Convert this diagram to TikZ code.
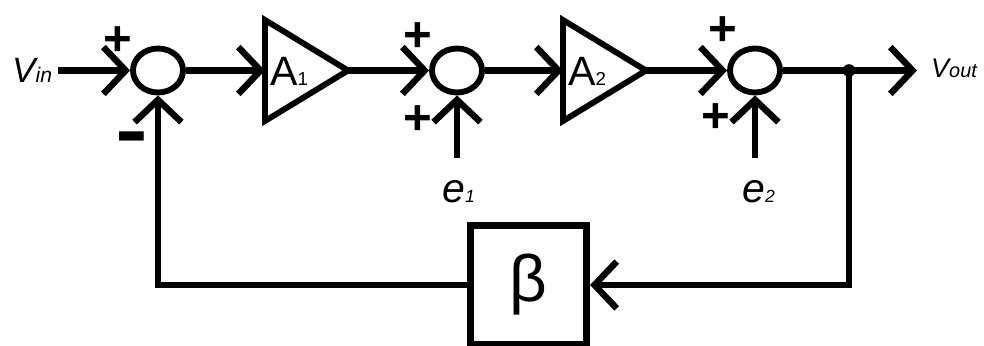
\documentclass[tikz,border=0pt]{standalone}
\usepackage{fontspec}
\setmainfont{Liberation Sans}
\usepackage{graphicx}
\usetikzlibrary{arrows.meta,shapes.geometric}
\begin{document}
\begin{tikzpicture}[x=0.03cm,y=-0.03cm,
  wire/.style={line width=5.5pt},
  arr/.style={wire,-{Straight Barb[length=19pt,width=40pt]}},
  sumj/.style={ellipse,draw,line width=5pt,minimum width=1.5cm,minimum height=1.32cm,inner sep=0pt},
  amp/.style={line width=5pt,line join=miter},
  sgn/.style={font=\fontsize{42}{42}\bfseries\selectfont,inner sep=0pt},
  lbl/.style={inner sep=0pt,anchor=base west},
  blk/.style={rectangle,draw,line width=6pt,minimum width=3.48cm,minimum height=3.57cm,inner sep=0pt,font=\fontsize{56}{56}\selectfont}
]
\useasboundingbox (0,0) rectangle (984,346);

% summing junctions
\node[sumj] (s1) at (158,70.5) {};
\node[sumj] (s2) at (457,70.5) {};
\node[sumj] (s3) at (755,70.5) {};

% amplifiers
\draw[amp] (265,20) -- (348,70.5) -- (265,121) -- cycle;
\draw[amp] (563,20) -- (646,70.5) -- (563,121) -- cycle;
\coordinate (A1in) at (265,70.5);
\coordinate (A1out) at (348,70.5);
\coordinate (A2in) at (563,70.5);
\coordinate (A2out) at (646,70.5);
\node[lbl] (A1) at (270,86) {{\fontsize{35}{35}\selectfont A}{\fontsize{16}{16}\selectfont 1}};
\node[lbl] (A2) at (568,86) {{\fontsize{35}{35}\selectfont A}{\fontsize{16}{16}\selectfont 2}};

% feedback block
\node[blk] (beta) at (528.5,285) {β};

% labels
\node[lbl] (vin) at (12,83) {\itshape{\fontsize{30}{30}\selectfont V}{\fontsize{18}{18}\selectfont in}};
\node[lbl] (vout) at (931,78) {\itshape{\fontsize{23}{23}\selectfont V}{\fontsize{17}{17}\selectfont out}};
\node[lbl] (e1) at (442,203) {\itshape{\fontsize{35}{35}\selectfont e}{\fontsize{15}{15}\selectfont 1}};
\node[lbl] (e2) at (742,203) {\itshape{\fontsize{35}{35}\selectfont e}{\fontsize{15}{15}\selectfont 2}};

% signs
\node[sgn] (p1) at (118,41) {+};
\node[sgn,font=\fontsize{40}{40}\bfseries\selectfont] (m1) at (132,148) {\scalebox{1.05}[1.8]{−}};
\node[sgn] (p2a) at (418,37) {+};
\node[sgn] (p2b) at (418,120) {+};
\node[sgn] (p3a) at (723,31) {+};
\node[sgn] (p3b) at (716,118) {+};

% coordinates
\coordinate (vinstart) at (58,70.5);
\coordinate (voutend) at (917,70.5);
\coordinate (e1in) at (457,158);
\coordinate (e2in) at (755,158);
\node[circle,fill,inner sep=0pt,minimum size=0.38cm] (dot) at (849,70.5) {};

% connectors
\draw[arr] (vinstart) -- (s1.west);
\draw[arr] (s1.east) -- (A1in);
\draw[arr] (A1out) -- (s2.west);
\draw[arr] (s2.east) -- (A2in);
\draw[arr] (A2out) -- (s3.west);
\draw[arr] (s3.east) -- (voutend);
\draw[arr] (e1in) -- (s2.south);
\draw[arr] (e2in) -- (s3.south);
\draw[arr] (dot.center) |- (beta.east);
\draw[arr] (beta.west) -| (s1.south);
\end{tikzpicture}
\end{document}
